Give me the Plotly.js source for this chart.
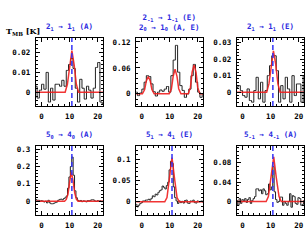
<!DOCTYPE html>
<html><head><meta charset="utf-8">
<script src="https://cdn.plot.ly/plotly-3.0.1.min.js"></script>
<style>html,body{margin:0;padding:0;background:#fff;}#g{width:306px;height:249px;}</style>
</head><body><div id="g"></div>
<script>
// velocity channels (km/s)
const velTop = [-2,-1.2,-0.4,0.4,1.2,2.0,2.8,3.6,4.4,5.2,6.0,6.8,7.6,8.4,9.2,10.0,10.8,11.6,12.4,13.2,14.0,14.8,15.6,16.4,17.2,18.0,18.8,19.6,20.4,21.2,22.0];
const velBot = [-2,-1.5,-1,-0.5,0,0.5,1,1.5,2,2.5,3,3.5,4,4.5,5,5.5,6,6.5,7,7.5,8,8.5,9,9.5,10,10.5,11,11.5,12,12.5,13,13.5,14,14.5,15,15.5,16,16.5,17,17.5,18,18.5,19,19.5,20,20.5,21,21.5,22];

// observed spectra T_MB [K]
const spec1 = [0.003,-0.003,0.001,0.004,0.0015,0.010,-0.005,0.002,-0.004,0.004,0.004,0.003,0.006,0.003,0.011,0.014,0.017,0.012,0.002,-0.005,0.0065,0.002,-0.0035,0.003,0.001,-0.003,0.002,0.0125,0.015,-0.005,-0.006];
const spec2 = [0.004,-0.004,0.002,0.011,0.027,0.042,0.040,0.023,0.005,-0.005,0.004,0.009,0.006,0.011,0.017,0.004,0.042,0.078,0.112,0.050,0.019,0.008,-0.008,0.000,0.011,0.042,0.068,0.027,0.004,-0.008,0.000];
const spec3 = [0.003,0.004,0.001,-0.002,-0.003,0.002,-0.005,-0.006,0.001,0.009,-0.004,0.006,-0.006,0.001,0.010,0.016,0.022,0.022,0.013,-0.006,0.004,-0.004,0.009,0.002,-0.006,0.010,-0.002,0.005,0.005,-0.006,0.010];
const spec4 = [0.01,0.005,0.005,0.0,0.003,0.0,-0.005,0.0,-0.01,0.005,-0.01,-0.015,-0.015,-0.012,-0.008,-0.005,0.005,0.01,0.012,0.008,0.015,0.02,0.03,0.075,0.14,0.20,0.255,0.15,0.06,0.02,0.005,0.0,0.004,-0.003,0.002,0.0,-0.004,0.003,0.001,0.005,0.008,0.008,0.002,-0.002,0.003,0.0,0.002,-0.003,0.001];
const spec5 = [-0.006,-0.012,-0.008,-0.004,-0.002,0.002,0.002,0.004,0.004,0.006,0.004,0.008,0.014,0.012,0.018,0.016,0.022,0.026,0.028,0.037,0.034,0.030,0.038,0.046,0.075,0.095,0.090,0.035,0.010,0.002,-0.004,0.002,-0.002,0.001,-0.003,0.003,0.004,-0.003,-0.004,0.002,0.001,0.004,-0.002,-0.003,0.002,0.0,0.001,0.002,-0.001];
const spec6 = [0.002,-0.008,0.006,-0.004,0.004,0.0,0.006,-0.002,0.004,0.008,-0.004,0.002,0.006,0.010,0.026,0.026,0.022,0.024,0.016,0.026,0.022,0.014,0.016,0.036,0.024,0.030,0.072,0.020,0.004,-0.002,0.0,0.009,0.009,-0.008,0.0,-0.004,-0.008,0.0,0.016,-0.012,0.012,0.010,-0.004,-0.006,0.008,0.006,-0.008,-0.006,0.002];

// fitted model curves (sampled)
const fit1x = [-2,8.4,9.2,10.0,10.8,11.6,12.4,13.2,22];
const fit1y = [0,0,0.004,0.014,0.021,0.014,0.004,0,0];
const fit2x = [-2,0.2,1.0,1.6,2.3,3.0,3.6,4.4,9.8,10.6,11.2,11.9,12.6,13.2,14.0,16.6,17.4,18.0,18.7,19.4,20.0,20.8,22];
const fit2y = [0,0,0.01,0.03,0.04,0.03,0.01,0,0,0.012,0.04,0.057,0.04,0.012,0,0,0.015,0.05,0.067,0.05,0.015,0,0];
const fit3x = [-2,8.6,9.4,10.2,11.0,11.8,12.6,13.4,22];
const fit3y = [0,0,0.005,0.017,0.025,0.017,0.005,0,0];
const fit4x = [-2,8.2,8.8,9.4,10.0,10.6,11.2,11.8,12.4,13.0,22];
const fit4y = [0,0,0.01,0.04,0.11,0.17,0.12,0.05,0.012,0,0];
const fit5x = [-2,8.2,9.0,9.8,10.8,11.8,12.6,13.4,22];
const fit5y = [0,0,0.01,0.05,0.104,0.05,0.01,0,0];
const fit6x = [-2,8.4,9.2,10.2,11.1,12.0,13.0,13.8,22];
const fit6y = [0,0,0.01,0.05,0.092,0.05,0.01,0,0];

const titles = [
  "2<sub>1</sub> → 1<sub>1</sub> (A)",
  "2<sub>-1</sub> → 1<sub>-1</sub> (E)<br>2<sub>0</sub> → 1<sub>0</sub> (A, E)",
  "2<sub>1</sub> → 1<sub>1</sub> (E)",
  "5<sub>0</sub> → 4<sub>0</sub> (A)",
  "5<sub>1</sub> → 4<sub>1</sub> (E)",
  "5<sub>-1</sub> → 4<sub>-1</sub> (A)"
];
const vlsr = [10.8, null, 10.8, 10.8, 10.8, 10.8];
const yRanges = [[-0.007,0.0274],[-0.028,0.129],[-0.0083,0.0327],[-0.08,0.319],[-0.031,0.131],[-0.028,0.1146]];
const yDticks = [0.01,0.06,0.01,0.1,0.05,0.04];
const xTicks = [0,10,20];

const specs = [spec1,spec2,spec3,spec4,spec5,spec6];
const vels = [velTop,velTop,velTop,velBot,velBot,velBot];
const fitsX = [fit1x,fit2x,fit3x,fit4x,fit5x,fit6x];
const fitsY = [fit1y,fit2y,fit3y,fit4y,fit5y,fit6y];

const W=306,H=249;
const xd = [[35.7,103],[136,203],[236.7,304]];
const yd = [[38,106],[146,215]];
const font = {family:"DejaVu Sans Mono, monospace", size:7.5, color:"#000", weight:"bold"};

const data=[], shapes=[], annotations=[];
const layout = {width:W,height:H,margin:{l:0,r:0,t:0,b:0},showlegend:false,
  paper_bgcolor:"#fff",plot_bgcolor:"#fff",font:font};

for(let i=0;i<6;i++){
  const c=i%3, r=Math.floor(i/3);
  const xa = i===0?'x':'x'+(i+1), ya = i===0?'y':'y'+(i+1);
  const xk = i===0?'xaxis':'xaxis'+(i+1), yk = i===0?'yaxis':'yaxis'+(i+1);
  data.push({x:vels[i],y:specs[i],xaxis:xa,yaxis:ya,type:'scatter',mode:'lines',
    line:{shape:'hvh',color:'#222',width:1}});
  data.push({x:fitsX[i],y:fitsY[i],xaxis:xa,yaxis:ya,type:'scatter',mode:'lines',
    line:{color:'rgba(240,30,30,0.9)',width:1.5}});
  if(vlsr[i]!==null){
    data.push({x:[vlsr[i],vlsr[i]],y:yRanges[i],xaxis:xa,yaxis:ya,type:'scatter',mode:'lines',
      line:{color:'rgb(50,50,245)',width:1.5,dash:'5px,3px'}});
  }
  const common = {showgrid:false,zeroline:false,showline:true,linecolor:'#000',linewidth:1,
    mirror:'allticks',ticks:'inside',ticklen:4,tickcolor:'#000',tickwidth:1,tickfont:font};
  layout[xk] = Object.assign({},common,{domain:[xd[c][0]/W,xd[c][1]/W],range:[-2.1,21.9],
    tickvals:xTicks,anchor:ya,ticklabelstandoff:3,minor:{dtick:2,tick0:0,ticks:'inside',ticklen:2,tickcolor:'#000'}});
  layout[yk] = Object.assign({},common,{domain:[1-yd[r][1]/H,1-yd[r][0]/H],range:yRanges[i],
    dtick:yDticks[i],tick0:0,anchor:xa,ticklabelstandoff:3,
    minor:{dtick:yDticks[i]/5,tick0:0,ticks:'inside',ticklen:2,tickcolor:'#000'}});
  annotations.push({text:titles[i],xref:'paper',yref:'paper',
    x:(xd[c][0]+xd[c][1])/2/W, y:1-(yd[r][0]-4)/H, xanchor:'center',yanchor:'bottom',
    showarrow:false,align:'center',font:{family:font.family,size:7.5,color:'#2a2ae0',weight:'bold'}});
}
annotations.push({text:"T<sub>MB</sub> [K]",xref:'paper',yref:'paper',x:4/W,y:1-31/H,
  xanchor:'left',yanchor:'middle',showarrow:false,font:{family:"DejaVu Serif, serif",size:8,color:'#000',weight:'bold'}});
layout.annotations=annotations;
Plotly.newPlot('g',data,layout,{staticPlot:true,displayModeBar:false});
</script></body></html>
